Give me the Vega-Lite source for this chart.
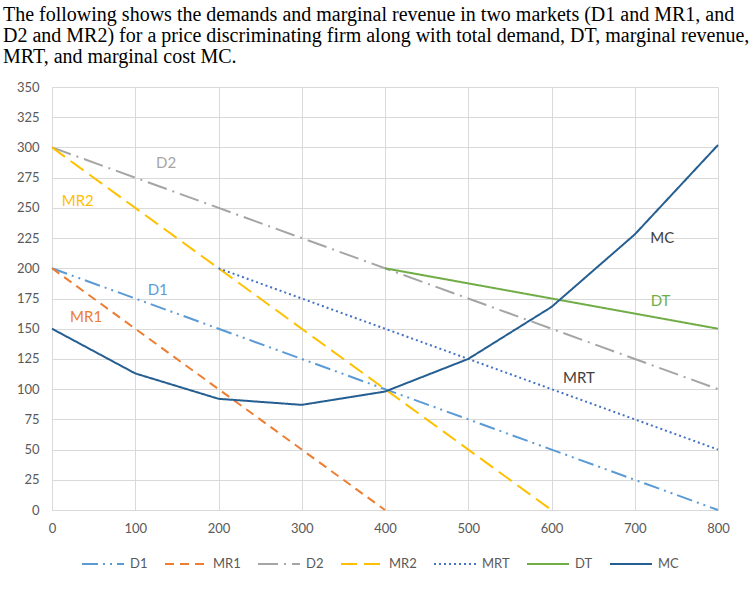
{
  "$schema": "https://vega.github.io/schema/vega-lite/v6.json",
  "width": 666,
  "height": 423,
  "autosize": {"type": "none"},
  "padding": {"left": 52, "top": 87, "right": 32, "bottom": 81},
  "background": "white",
  "title": {
    "text": [
      "The following shows the demands and marginal revenue in two markets (D1 and MR1, and",
      "D2 and MR2) for a price discriminating firm along with total demand, DT, marginal revenue,",
      "MRT, and marginal cost MC."
    ],
    "anchor": "start",
    "frame": "group",
    "dx": -49,
    "offset": 14,
    "font": "Liberation Serif",
    "fontSize": 20,
    "fontWeight": "normal",
    "lineHeight": 21,
    "color": "black"
  },
  "config": {
    "view": {"stroke": null},
    "axis": {
      "labelFont": "Lato",
      "labelFontSize": 13,
      "labelColor": "#595959",
      "labelOverlap": false,
      "labelFlush": false,
      "gridColor": "#D9D9D9",
      "gridWidth": 1,
      "ticks": false,
      "title": null
    },
    "legend": {
      "labelFont": "Lato",
      "labelFontSize": 13,
      "labelColor": "#595959"
    },
    "text": {"font": "Lato", "fontSize": 15}
  },
  "datasets": {
    "lines": [
      {"series": "D1", "q": 0, "p": 200},
      {"series": "D1", "q": 800, "p": 0},
      {"series": "MR1", "q": 0, "p": 200},
      {"series": "MR1", "q": 400, "p": 0},
      {"series": "D2", "q": 0, "p": 300},
      {"series": "D2", "q": 800, "p": 100},
      {"series": "MR2", "q": 0, "p": 300},
      {"series": "MR2", "q": 600, "p": 0},
      {"series": "MRT", "q": 200, "p": 200},
      {"series": "MRT", "q": 800, "p": 50},
      {"series": "DT", "q": 400, "p": 200},
      {"series": "DT", "q": 800, "p": 150},
      {"series": "MC", "q": 0, "p": 150},
      {"series": "MC", "q": 100, "p": 113},
      {"series": "MC", "q": 200, "p": 92},
      {"series": "MC", "q": 300, "p": 87},
      {"series": "MC", "q": 400, "p": 98},
      {"series": "MC", "q": 500, "p": 125},
      {"series": "MC", "q": 600, "p": 168},
      {"series": "MC", "q": 700, "p": 228},
      {"series": "MC", "q": 800, "p": 302}
    ],
    "labels": [
      {"label": "D2", "q": 137, "p": 287},
      {"label": "MR2", "q": 31, "p": 256},
      {"label": "D1", "q": 127, "p": 182},
      {"label": "MR1", "q": 41, "p": 160},
      {"label": "MC", "q": 733, "p": 225},
      {"label": "DT", "q": 731, "p": 173},
      {"label": "MRT", "q": 633, "p": 109}
    ]
  },
  "encoding": {
    "x": {
      "field": "q", "type": "quantitative",
      "scale": {"domain": [0, 800], "nice": false},
      "axis": {"values": [0,100,200,300,400,500,600,700,800], "labelPadding": 12, "domainColor": "#D9D9D9"}
    },
    "y": {
      "field": "p", "type": "quantitative",
      "scale": {"domain": [0, 350], "nice": false},
      "axis": {"values": [0,25,50,75,100,125,150,175,200,225,250,275,300,325,350], "labelPadding": 13, "domain": false}
    }
  },
  "layer": [
    {
      "data": {"name": "lines"},
      "mark": {"type": "line", "strokeWidth": 2},
      "encoding": {
        "color": {
          "field": "series", "type": "nominal",
          "sort": ["D1","MR1","D2","MR2","MRT","DT","MC"],
          "scale": {
            "domain": ["D1","MR1","D2","MR2","MRT","DT","MC"],
            "range": ["#5B9BD5","#ED7D31","#A5A5A5","#FFC000","#4472C4","#70AD47","#255E91"]
          },
          "legend": {
            "title": null,
            "orient": "none",
            "legendX": 29,
            "legendY": 455,
            "direction": "horizontal",
            "symbolType": "stroke",
            "symbolSize": 1764,
            "symbolStrokeWidth": 2,
            "labelOffset": 5,
            "columnPadding": 13
          }
        },
        "strokeDash": {
          "field": "series", "type": "nominal",
          "sort": ["D1","MR1","D2","MR2","MRT","DT","MC"],
          "scale": {
            "domain": ["D1","MR1","D2","MR2","MRT","DT","MC"],
            "range": [[16,5,2,5,2,5],[9,6],[20,6,2,6],[16,7],[2,3],[1,0],[1,0]]
          },
          "legend": {
            "title": null,
            "orient": "none",
            "legendX": 29,
            "legendY": 455,
            "direction": "horizontal",
            "symbolType": "stroke",
            "symbolSize": 1764,
            "symbolStrokeWidth": 2,
            "labelOffset": 5,
            "columnPadding": 13
          }
        },
        "detail": {"field": "series"}
      }
    },
    {
      "data": {"name": "labels"},
      "transform": [{"filter": {"field": "label", "equal": "D2"}}],
      "mark": {"type": "text", "color": "#A5A5A5"},
      "encoding": {"text": {"field": "label"}}
    },
    {
      "data": {"name": "labels"},
      "transform": [{"filter": {"field": "label", "equal": "MR2"}}],
      "mark": {"type": "text", "color": "#FFC000"},
      "encoding": {"text": {"field": "label"}}
    },
    {
      "data": {"name": "labels"},
      "transform": [{"filter": {"field": "label", "equal": "D1"}}],
      "mark": {"type": "text", "color": "#5B9BD5"},
      "encoding": {"text": {"field": "label"}}
    },
    {
      "data": {"name": "labels"},
      "transform": [{"filter": {"field": "label", "equal": "MR1"}}],
      "mark": {"type": "text", "color": "#ED7D31"},
      "encoding": {"text": {"field": "label"}}
    },
    {
      "data": {"name": "labels"},
      "transform": [{"filter": {"field": "label", "equal": "DT"}}],
      "mark": {"type": "text", "color": "#70AD47"},
      "encoding": {"text": {"field": "label"}}
    },
    {
      "data": {"name": "labels"},
      "transform": [{"filter": {"field": "label", "oneOf": ["MC", "MRT"]}}],
      "mark": {"type": "text", "color": "#404040"},
      "encoding": {"text": {"field": "label"}}
    }
  ]
}
